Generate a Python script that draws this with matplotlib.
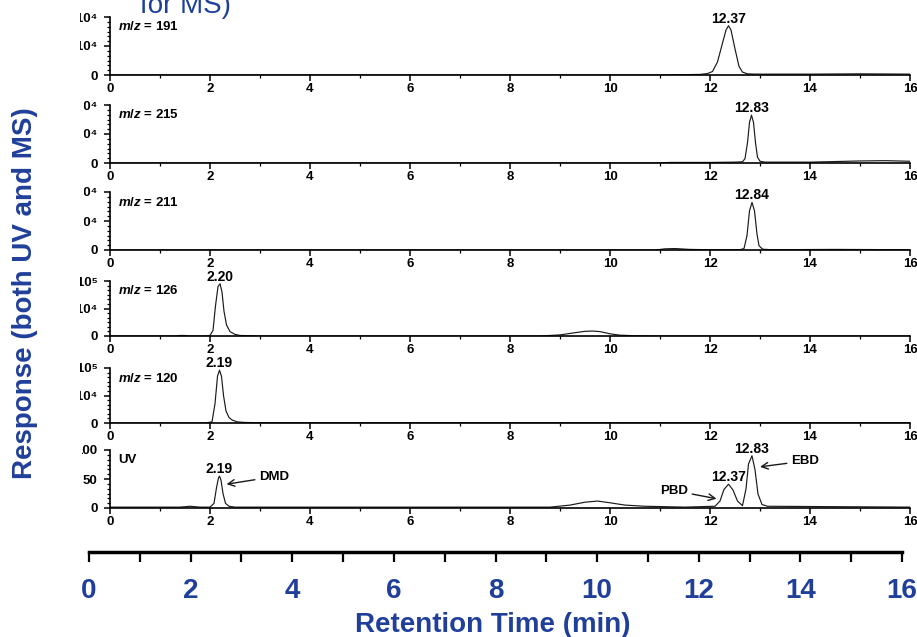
import matplotlib
matplotlib.use('Agg')
import matplotlib.pyplot as plt
from matplotlib.ticker import MultipleLocator
from matplotlib.transforms import Bbox, TransformedBbox

W, H = 917, 637
BLUE = '#1f3f9a'
INK = '#1a1a1a'

plt.rcParams['font.family'] = ['Liberation Sans', 'DejaVu Sans']
plt.rcParams['mathtext.fontset'] = 'custom'
plt.rcParams['mathtext.rm'] = 'Liberation Sans:bold'
plt.rcParams['mathtext.it'] = 'Liberation Sans:italic:bold'
plt.rcParams['mathtext.bf'] = 'Liberation Sans:bold'

# traces (time in min, response in tick units)
t_191 = [0, 11.0, 11.8, 11.95, 12.05, 12.15, 12.25, 12.32, 12.37, 12.42, 12.5, 12.58, 12.65, 12.75, 12.9, 14.0, 15.0, 16.0]
r_191 = [0.0, 0.0, 0.02, 0.05, 0.12, 0.45, 1.1, 1.55, 1.7, 1.55, 0.9, 0.3, 0.1, 0.04, 0.03, 0.03, 0.04, 0.03]

t_215 = [0, 10.9, 11.2, 11.6, 12.0, 12.5, 12.65, 12.7, 12.75, 12.79, 12.83, 12.87, 12.91, 12.95, 13.0, 13.1, 14.0, 14.5, 15.0, 15.5, 16.0]
r_215 = [0, 0, 0.02, 0.02, 0.02, 0.03, 0.04, 0.15, 0.7, 1.4, 1.65, 1.4, 0.7, 0.2, 0.06, 0.03, 0.03, 0.05, 0.07, 0.08, 0.06]

t_211 = [0, 10.9, 11.1, 11.3, 11.6, 12.0, 12.6, 12.68, 12.74, 12.79, 12.84, 12.89, 12.94, 12.98, 13.05, 13.2, 14.5, 16.0]
r_211 = [0, 0, 0.04, 0.05, 0.02, 0.01, 0.01, 0.05, 0.5, 1.35, 1.64, 1.35, 0.55, 0.15, 0.03, 0.01, 0.02, 0.01]

t_126 = [0, 1.3, 1.4, 1.5, 1.6, 1.9, 2.0, 2.06, 2.11, 2.16, 2.2, 2.24, 2.28, 2.33, 2.4, 2.5, 2.6, 3.0,
         8.6, 9.0, 9.3, 9.5, 9.65, 9.8, 10.0, 10.2, 10.5, 11.0, 16.0]
r_126 = [0, 0, 0.01, 0.01, 0, 0, 0.01, 0.1, 0.55, 0.9, 0.95, 0.8, 0.45, 0.2, 0.08, 0.03, 0.01, 0,
         0, 0.02, 0.06, 0.085, 0.09, 0.08, 0.04, 0.015, 0.005, 0, 0]

t_120 = [0, 1.9, 2.04, 2.1, 2.15, 2.19, 2.23, 2.27, 2.32, 2.38, 2.45, 2.55, 2.7, 3.0, 16.0]
r_120 = [0, 0, 0.02, 0.35, 0.85, 0.96, 0.85, 0.5, 0.22, 0.1, 0.05, 0.02, 0.01, 0.005, 0.005]

t_uv = [0, 1.4, 1.6, 1.8, 2.0, 2.08, 2.13, 2.17, 2.19, 2.22, 2.26, 2.31, 2.38, 2.5,
        8.8, 9.2, 9.5, 9.75, 10.0, 10.3, 10.7, 11.5,
        12.1, 12.2, 12.28, 12.37, 12.46, 12.55, 12.65, 12.72, 12.77, 12.84, 12.9, 12.96, 13.04, 13.15, 16.0]
r_uv = [1.5, 1.5, 3, 1.5, 1.5, 8, 35, 52, 55, 48, 25, 8, 3, 1.5,
        1.5, 5, 10, 12, 9, 5, 3, 1.5,
        3, 12, 32, 41, 31, 12, 4, 33, 76, 90, 66, 24, 6, 3, 1.5]

panel_names = ['$m/z$ = 191', '$m/z$ = 215', '$m/z$ = 211', '$m/z$ = 126', '$m/z$ = 120', 'UV']
traces = [(t_191, r_191), (t_215, r_215), (t_211, r_211), (t_126, r_126), (t_120, r_120), (t_uv, r_uv)]
y_ticks = [[0, 1, 2], [0, 1, 2], [0, 1, 2], [0, 0.5, 1.0], [0, 0.5, 1.0], [0, 50, 100]]
y_ticklabels = [['0', '1.0x10⁴', '2.0x10⁴'], ['0', '1.0x10⁴', '2.0x10⁴'], ['0', '1.0x10⁴', '2.0x10⁴'],
                ['0', '5.0x10⁴', '1.0x10⁵'], ['0', '5.0x10⁴', '1.0x10⁵'], ['0', '50', '100']]
peak_labels = [[(12.37, 1.7, '12.37')], [(12.83, 1.65, '12.83')], [(12.84, 1.64, '12.84')],
               [(2.20, 0.95, '2.20')], [(2.19, 0.96, '2.19')],
               [(2.19, 55, '2.19'), (12.37, 41, '12.37'), (12.84, 90, '12.83')]]
# compound arrows in UV trace: name, arrow tip, text anchor, alignment
uv_arrows = [('DMD', (2.33, 41), (2.98, 54), 'left'),
             ('PBD', (12.13, 16), (11.56, 30), 'right'),
             ('EBD', (13.0, 71), (13.62, 81), 'left')]

# pixel rows (top, bottom) of each panel, and where the left crop cuts its y labels
rows = [(17, 75), (105, 163), (192, 250), (281, 336), (368, 423), (450, 508)]
crop_x = [79.5, 83.5, 83.5, 79.5, 79.5, 82]

fig = plt.figure(figsize=(W / 100, H / 100), dpi=100)

for i, (top, bot) in enumerate(rows):
    ax = fig.add_axes([110 / W, 1 - bot / H, 800 / W, (bot - top) / H])
    t, r = traces[i]
    ax.plot(t, r, color=INK, lw=0.85)
    ax.set_xlim(0, 16)
    ax.set_ylim(0, y_ticks[i][-1])
    ax.patch.set_visible(False)
    for s in ['top', 'right']:
        ax.spines[s].set_visible(False)
    for s in ['left', 'bottom']:
        ax.spines[s].set_linewidth(1.2)
    ax.set_xticks(range(0, 17, 2))
    ax.xaxis.set_minor_locator(MultipleLocator(1))
    ax.set_yticks(y_ticks[i])
    ax.set_yticklabels(y_ticklabels[i])
    ax.yaxis.set_minor_locator(MultipleLocator(y_ticks[i][1] / 6))
    ax.tick_params(axis='both', which='major', direction='out', length=4, width=1.1,
                   labelsize=9.5, pad=3)
    ax.tick_params(axis='both', which='minor', direction='out', length=2.5, width=0.9)
    ax.tick_params(axis='x', which='major', pad=2)
    ax.tick_params(axis='y', which='major', pad=5)
    for lab in ax.get_xticklabels() + ax.get_yticklabels():
        lab.set_fontweight('bold')
    # the source picture was cropped on the left, cut the long y labels the same way
    crop = TransformedBbox(Bbox.from_extents(crop_x[i] / W, 0, 1, 1), fig.transFigure)
    for tk in ax.yaxis.get_major_ticks():
        tk.label1.set_clip_box(crop)
        tk.label1.set_clip_on(True)

    ax.text(0.01, 1 - 10 / (bot - top), panel_names[i], transform=ax.transAxes,
            fontsize=9.5, fontweight='bold', va='center', ha='left')
    for px, py, lbl in peak_labels[i]:
        ax.annotate(lbl, xy=(px, py), xytext=(0, 0), textcoords='offset points',
                    ha='center', va='bottom', fontsize=10, fontweight='bold')

    if i == 5:
        for name, tip, anchor, al in uv_arrows:
            ax.annotate(name, xy=tip, xytext=anchor, ha=al, va='center',
                        fontsize=9.5, fontweight='bold',
                        arrowprops=dict(arrowstyle='->,head_length=0.5,head_width=0.25',
                                        color=INK, lw=1.0, shrinkA=1, shrinkB=0))

# shared blue time axis at the bottom
axb = fig.add_axes([89 / W, 1 - 552 / H, 813 / W, 0.001])
axb.set_xlim(0, 16)
axb.set_yticks([])
axb.patch.set_visible(False)
for s in ['top', 'right', 'left']:
    axb.spines[s].set_visible(False)
axb.spines['bottom'].set_linewidth(2.5)
axb.set_xticks(range(0, 17, 2))
axb.xaxis.set_minor_locator(MultipleLocator(1))
axb.tick_params(axis='x', which='both', direction='out', length=7, width=1.6,
                labelsize=20, labelcolor=BLUE, pad=12)
for lab in axb.get_xticklabels():
    lab.set_fontweight('bold')

fig.text(493 / W, 1 - 625 / H, 'Retention Time (min)', ha='center', va='center',
         fontsize=20, fontweight='bold', color=BLUE)
fig.text(25 / W, 1 - 293 / H, 'Response (both UV and MS)', rotation=90, ha='center',
         va='center', fontsize=20, fontweight='bold', color=BLUE)
fig.text(140 / W, 1 - 13 / H, 'for MS)', va='baseline', ha='left', fontsize=20, color=BLUE)

fig.savefig('out.png', dpi=100)
